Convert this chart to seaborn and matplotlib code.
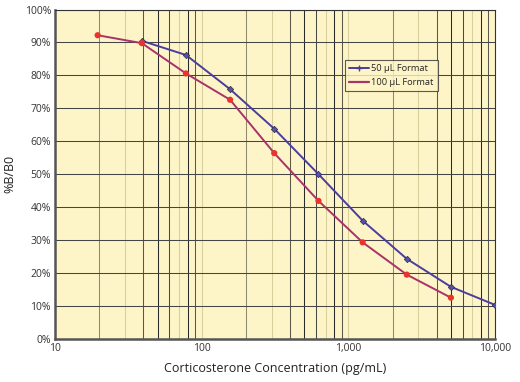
import matplotlib
matplotlib.use("Agg")
import matplotlib.pyplot as plt
from matplotlib.ticker import FixedLocator, FuncFormatter, NullLocator
import seaborn as sns
import pandas as pd

# data
conc_50 = [39, 78, 156, 312, 625, 1250, 2500, 5000, 10000]
bb0_50 = [90.5, 86.2, 75.8, 63.8, 50.0, 35.9, 24.3, 15.8, 10.3]
conc_100 = [19.5, 39, 78, 156, 312, 625, 1250, 2500, 5000]
bb0_100 = [92.2, 89.8, 80.6, 72.6, 56.4, 41.9, 29.3, 19.5, 12.5]
labels = ["50 \u00b5L Format", "100 \u00b5L Format"]
x_ticks = [10, 100, 1000, 10000]
y_ticks = [0, 10, 20, 30, 40, 50, 60, 70, 80, 90, 100]

sns.set_style("white")
plt.rcParams["font.family"] = ["Open Sans", "DejaVu Sans"]

df = pd.concat([
    pd.DataFrame({"conc": conc_50, "bb0": bb0_50, "fmt": labels[0]}),
    pd.DataFrame({"conc": conc_100, "bb0": bb0_100, "fmt": labels[1]}),
])

fig = plt.figure(figsize=(5.2, 3.82), dpi=100)
ax = fig.add_axes([0.106, 0.113, 0.846, 0.862])
ax.set_facecolor("#fdf4c8")

# vertical grid with the uneven shading of the original
shade = {1: "#d8cf9c", 2: "#8f8a70", 3: "#d8cf9c", 4: "#5a5848", 5: "#2a2a2a",
         6: "#4a4a44", 7: "#d8cf9c", 8: "#2a2a2a", 9: "#5a5848"}
for dec in [10, 100, 1000]:
    for m in range(1, 10):
        if dec * m == 10:
            continue
        ax.axvline(dec * m, color=shade[m], lw=0.75, zorder=1)
for v in y_ticks[1:]:
    ax.axhline(v, color="#454545", lw=0.75, zorder=1)

sns.lineplot(data=df, x="conc", y="bb0", hue="fmt", ax=ax,
             palette={labels[0]: "#4a3d9e", labels[1]: "#a8336a"},
             lw=1.4, legend=False, zorder=3)
sns.scatterplot(x=conc_50, y=bb0_50, ax=ax, color="#5550b0", marker="D",
                s=11, edgecolor="#222222", linewidth=0.4, zorder=4)
sns.scatterplot(x=conc_100, y=bb0_100, ax=ax, color="#e8342c", marker="o",
                s=20, edgecolor="none", zorder=4)

ax.set_xscale("log")
ax.set_xlim(10, 10000)
ax.set_ylim(0, 100)
ax.xaxis.set_major_locator(FixedLocator(x_ticks))
ax.xaxis.set_minor_locator(NullLocator())
ax.xaxis.set_major_formatter(FuncFormatter(lambda v, p: f"{int(v):,}"))
ax.set_yticks(y_ticks)
ax.set_yticklabels([f"{v}%" for v in y_ticks])
ax.tick_params(axis="both", labelsize=7.5, colors="#333333", length=0, pad=3)

for s in ["left", "bottom"]:
    ax.spines[s].set_color("#555555")
    ax.spines[s].set_linewidth(1.8)
for s in ["right", "top"]:
    ax.spines[s].set_color("#333333")
    ax.spines[s].set_linewidth(0.8)

ax.set_xlabel("Corticosterone Concentration (pg/mL)", fontsize=9, color="#222222", labelpad=6)
ax.set_ylabel("%B/B0", fontsize=9, color="#222222", labelpad=6)

h1, = ax.plot([], [], color="#4a3d9e", lw=1.4, marker="+", ms=4, mec="#4a3d9e")
h2, = ax.plot([], [], color="#a8336a", lw=1.6)
leg = ax.legend([h1, h2], labels, loc="upper left", bbox_to_anchor=(0.658, 0.848),
                fontsize=6.7, frameon=True, fancybox=False, handlelength=2.2,
                handletextpad=0.2, borderpad=0.45, labelspacing=0.55, borderaxespad=0)
leg.get_frame().set_edgecolor("#333333")
leg.get_frame().set_facecolor("#fdf4c8")
leg.get_frame().set_linewidth(0.8)

fig.savefig("out.png", dpi=100)
